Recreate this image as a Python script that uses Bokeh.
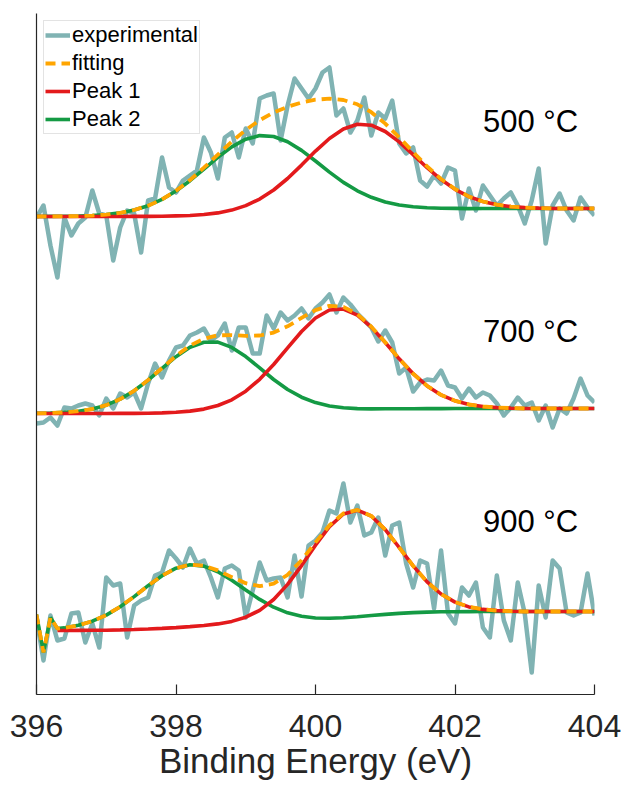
import numpy as np
from bokeh.plotting import figure
from bokeh.models import Range1d, FixedTicker, Legend, LegendItem, Label
from bokeh.embed import file_html
from bokeh.resources import INLINE

# ---------------- data ----------------
energy_exp = [
    396.0, 396.1, 396.2, 396.3, 396.4, 396.5, 396.6, 396.7, 396.8, 396.9,
    397.0, 397.1, 397.2, 397.3, 397.4, 397.5, 397.6, 397.7, 397.8, 397.9,
    398.0, 398.1, 398.2, 398.3, 398.4, 398.5, 398.6, 398.7, 398.8, 398.9,
    399.0, 399.1, 399.2, 399.3, 399.4, 399.5, 399.6, 399.7, 399.8, 399.9,
    400.0, 400.1, 400.2, 400.3, 400.4, 400.5, 400.6, 400.7, 400.8, 400.9,
    401.0, 401.1, 401.2, 401.3, 401.4, 401.5, 401.6, 401.7, 401.8, 401.9,
    402.0, 402.1, 402.2, 402.3, 402.4, 402.5, 402.6, 402.7, 402.8, 402.9,
    403.0, 403.1, 403.2, 403.3, 403.4, 403.5, 403.6, 403.7, 403.8, 403.9,
    404.0]

energy_fit = [
    396.0, 396.2, 396.4, 396.6, 396.8, 397.0, 397.2, 397.4, 397.6, 397.8,
    398.0, 398.2, 398.4, 398.6, 398.8, 399.0, 399.2, 399.4, 399.6, 399.8,
    400.0, 400.2, 400.4, 400.6, 400.8, 401.0, 401.2, 401.4, 401.6, 401.8,
    402.0, 402.2, 402.4, 402.6, 402.8, 403.0, 403.2, 403.4, 403.6, 403.8,
    404.0]

energy_fit_900 = [
    396.0, 396.1, 396.2, 396.3,
    396.4, 396.6, 396.8, 397.0, 397.2, 397.4, 397.6, 397.8,
    398.0, 398.2, 398.4, 398.6, 398.8, 399.0, 399.2, 399.4, 399.6, 399.8,
    400.0, 400.2, 400.4, 400.6, 400.8, 401.0, 401.2, 401.4, 401.6, 401.8,
    402.0, 402.2, 402.4, 402.6, 402.8, 403.0, 403.2, 403.4, 403.6, 403.8,
    404.0]

temperatures = ["500 °C", "700 °C", "900 °C"]
panel_offsets = [478, 281, 64]

exp_500 = [
    -1, 11, -29, -61, -1, -19, -7, -1, 26, 3,
    1, -44, -11, 6, 3, -36, 16, 18, 59, 29,
    24, 36, 41, 46, 79, 64, 38, 79, 84, 59,
    88, 73, 118, 121, 123, 76, 111, 138, 128, 118,
    128, 144, 149, 101, 108, 84, 96, 119, 81, 104,
    98, 116, 73, 63, 69, 36, 30, 41, 33, 49,
    46, -2, 28, 6, 31, 21, 11, 18, 24, 11,
    -7, 16, 48, -27, 11, 23, 6, -4, 19, 9,
    1]
fit_500 = [
    0, 0.1, 0.2, 0.4, 0.9, 1.9, 3.6, 6.5, 10.8, 17.1,
    25.8, 36.4, 48.8, 61.9, 74.8, 86.6, 96.3, 104.0, 109.7, 114.0,
    116.8, 117.8, 116.5, 112.2, 104.3, 92.9, 79.1, 64.4, 50.1, 37.5,
    27.5, 19.9, 15.0, 11.8, 9.9, 8.9, 8.4, 8.0, 8.0, 8.0,
    8.0]
peak1_500 = [
    0, 0, 0, 0, 0, 0, 0, 0.1, 0.1, 0.2,
    0.6, 1.0, 2.0, 3.6, 6.4, 10.9, 17.4, 26.5, 38.0, 51.4,
    65.4, 78.0, 87.5, 92.2, 91.3, 85.0, 74.6, 61.9, 48.8, 36.9,
    27.2, 19.9, 15.0, 11.8, 9.9, 8.9, 8.4, 8.0, 8.0, 8.0,
    8.0]
peak2_500 = [
    0, 0.1, 0.2, 0.4, 0.9, 1.9, 3.6, 6.5, 10.8, 17.1,
    25.5, 35.8, 47.4, 59.2, 69.6, 77.3, 80.9, 80.0, 74.7, 66.1,
    55.5, 44.4, 34.1, 25.7, 19.2, 14.5, 11.5, 9.8, 8.8, 8.3,
    8.1, 7.9, 8.0, 8.0, 8.0, 8.0, 8.0, 8.0, 8.0, 8.0,
    8.0]

exp_700 = [
    -10, -9, -4, -12, 6, 5, 8, 10, 8, -2,
    15, 5, 20, 16, 21, 5, 30, 50, 36, 53,
    66, 68, 78, 81, 85, 73, 78, 90, 63, 86,
    86, 60, 60, 98, 85, 101, 93, 98, 105, 95,
    105, 111, 119, 101, 116, 109, 100, 93, 86, 72,
    83, 71, 40, 46, 22, 31, 34, 33, 43, 28,
    26, 15, 25, 16, 21, 18, 10, -2, 6, 16,
    8, 11, -7, 8, -14, 5, 0, 15, 35, 18,
    11]
fit_700 = [
    0.2, 0.5, 1.1, 2.3, 4.5, 8.3, 14.4, 22.7, 33.4, 45.5,
    57.6, 67.9, 74.8, 78.2, 78.4, 77.6, 78.0, 80.9, 87.2, 95.6,
    103.4, 107.7, 106.6, 99.4, 86.8, 71.2, 54.7, 39.8, 27.6, 18.6,
    12.7, 9.0, 7.0, 5.9, 5.4, 5.0, 5.0, 5.0, 5.0, 5.0,
    5.0]
peak1_700 = [
    0, 0, 0, 0, 0, 0, 0.1, 0.1, 0.3, 0.6,
    1.3, 2.4, 4.4, 8.0, 13.7, 22.3, 34.2, 49.0, 65.6, 82.0,
    95.5, 103.5, 104.5, 98.4, 86.4, 71.0, 54.7, 39.8, 27.6, 18.6,
    12.7, 9.0, 7.0, 5.9, 5.4, 5.0, 5.0, 5.0, 5.0, 5.0,
    5.0]
peak2_700 = [
    0.2, 0.5, 1.1, 2.3, 4.5, 8.3, 14.4, 22.7, 33.3, 45.2,
    56.8, 66.2, 71.3, 71.4, 66.1, 56.9, 45.6, 34.0, 24.0, 16.3,
    10.9, 7.5, 5.7, 4.9, 4.6, 4.7, 4.7, 4.8, 4.9, 4.9,
    5.0, 5.0, 5.0, 5.0, 5.0, 5.0, 5.0, 5.0, 5.0, 5.0,
    5.0]

exp_900 = [
    13, -30, 15, -10, -8, 17, 18, -12, 7, -17,
    53, 45, 47, -7, 25, 30, 33, 55, 58, 80,
    72, 63, 82, 67, 70, 53, 33, 62, 65, 60,
    13, 40, 68, 50, 52, 53, 33, 75, 34, 85,
    90, 98, 120, 117, 147, 108, 125, 95, 98, 113,
    75, 105, 108, 67, 43, 70, 67, 22, 80, 17,
    7, 43, 35, 48, 3, -7, 55, 10, -10, 48,
    17, -42, 45, 13, 70, 62, 18, 15, 18, 57,
    15]
fit_900 = [
    16, -22, 13, 1.9,
    2.6, 5.2, 9.3, 15.4, 23.8, 33.9, 44.8, 54.8,
    62.3, 65.9, 64.9, 60.1, 53.4, 47.3, 44.3, 46.8, 55.7, 70.3,
    88.1, 105.2, 117.1, 120.6, 114.6, 100.9, 83.0, 64.6, 48.6, 36.5,
    28.4, 23.6, 21.1, 19.9, 19.3, 19.0, 19.0, 19.0, 19.0, 19.0,
    19.0]
peak1_900 = [
    np.nan, np.nan, np.nan, 0.0,
    0.0, 0.1, 0.2, 0.3, 0.6, 1.0, 1.5, 2.1,
    2.9, 3.9, 5.0, 6.6, 9.1, 13.3, 20.2, 31.0, 46.1, 64.9,
    85.3, 103.8, 116.5, 120.3, 114.5, 100.9, 83.0, 64.6, 48.6, 36.5,
    28.4, 23.6, 21.1, 19.9, 19.3, 19.0, 19.0, 19.0, 19.0, 19.0,
    19.0]
peak2_900 = [
    16, -22, 13, 1.9,
    2.6, 5.2, 9.3, 15.4, 23.8, 33.9, 44.8, 54.8,
    62.3, 65.7, 64.4, 58.7, 50.2, 40.5, 31.1, 23.3, 17.7, 14.2,
    12.5, 12.2, 12.8, 13.8, 15.0, 16.1, 17.1, 17.9, 18.4, 18.7,
    18.8, 18.9, 19.0, 19.0, 19.0, 19.0, 19.0, 19.0, 19.0, 19.0,
    19.0]

x_ticks = [396, 398, 400, 402, 404]

# ---------------- styling ----------------
AX = "#262626"
C_EXP = "#80B3B3"
C_FIT = "#FFA500"
C_P1 = "#E31A1C"
C_P2 = "#149A44"
FONT = "Liberation Sans"

p = figure(width=621, height=787,
           x_range=Range1d(396, 404), y_range=Range1d(0, 681),
           output_backend="svg", toolbar_location=None,
           min_border_left=36, min_border_right=27,
           min_border_top=13, min_border_bottom=93)
p.outline_line_color = None
p.xgrid.visible = False
p.ygrid.visible = False
p.background_fill_color = "white"
p.border_fill_color = "white"

panels = [
    (exp_500, energy_fit, fit_500, peak1_500, peak2_500),
    (exp_700, energy_fit, fit_700, peak1_700, peak2_700),
    (exp_900, energy_fit_900, fit_900, peak1_900, peak2_900),
]

first = {}
for i, (ex, efit, fit, pk1, pk2) in enumerate(panels):
    off = panel_offsets[i]
    r_exp = p.line(energy_exp, np.array(ex, dtype=float) + off, line_color=C_EXP,
                   line_width=4.5, line_join="round")
    r_p2 = p.line(efit, np.array(pk2, dtype=float) + off, line_color=C_P2, line_width=3.6)
    r_p1 = p.line(efit, np.array(pk1, dtype=float) + off, line_color=C_P1, line_width=3.6)
    r_fit = p.line(efit, np.array(fit, dtype=float) + off, line_color=C_FIT,
                   line_width=3.8, line_dash="10 6")
    if i == 0:
        first = dict(exp=r_exp, fit=r_fit, p1=r_p1, p2=r_p2)

# temperature labels
label_x = 402.40
label_rel_y = [95, 82, 109]
for i, t in enumerate(temperatures):
    p.add_layout(Label(x=label_x, y=panel_offsets[i] + label_rel_y[i], text=t,
                       text_font=FONT, text_font_size="31px", text_color="black",
                       text_align="left", text_baseline="alphabetic"))

# axes
xa = p.xaxis[0]
xa.ticker = FixedTicker(ticks=x_ticks)
xa.major_tick_in = 10
xa.major_tick_out = 0
xa.minor_tick_line_color = None
xa.major_tick_line_color = AX
xa.major_tick_line_width = 1.2
xa.axis_line_color = AX
xa.axis_line_width = 1.2
xa.major_label_text_font = FONT
xa.major_label_text_font_size = "32px"
xa.major_label_text_color = AX
xa.major_label_standoff = 20
xa.axis_label = "Binding Energy (eV)"
xa.axis_label_text_font = FONT
xa.axis_label_text_font_size = "35px"
xa.axis_label_text_font_style = "normal"
xa.axis_label_text_color = AX
xa.axis_label_standoff = 1

ya = p.yaxis[0]
ya.ticker = FixedTicker(ticks=[])
ya.major_tick_line_color = None
ya.minor_tick_line_color = None
ya.major_label_text_font_size = "0px"
ya.axis_line_color = AX
ya.axis_line_width = 1.2

legend = Legend(items=[
    LegendItem(label="experimental", renderers=[first["exp"]]),
    LegendItem(label="fitting", renderers=[first["fit"]]),
    LegendItem(label="Peak 1", renderers=[first["p1"]]),
    LegendItem(label="Peak 2", renderers=[first["p2"]]),
], location="top_left")
legend.margin = 7
legend.padding = 1
legend.spacing = 2
legend.glyph_width = 25
legend.glyph_height = 24
legend.label_standoff = 2
legend.label_text_font = FONT
legend.label_text_font_size = "22px"
legend.label_text_color = "black"
legend.border_line_color = "#c8c8c8"
legend.border_line_width = 1
legend.background_fill_color = "white"
legend.background_fill_alpha = 1
p.add_layout(legend)

open("out.html", "w").write(file_html(p, INLINE))
